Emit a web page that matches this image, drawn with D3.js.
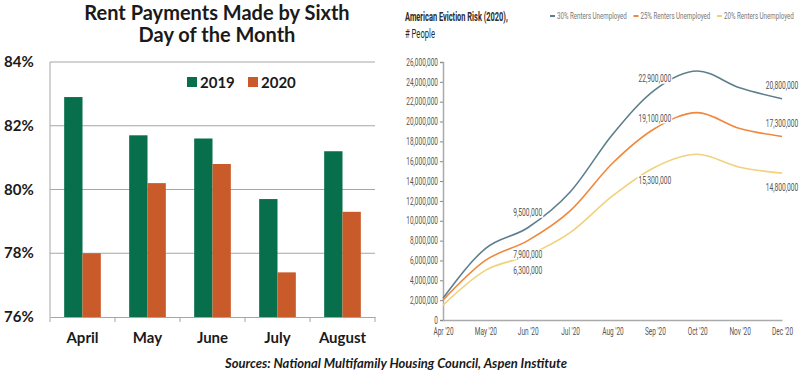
<!DOCTYPE html>
<html>
<head>
<meta charset="utf-8">
<script src="https://cdn.jsdelivr.net/npm/d3@7"></script>
<style>
    body { margin: 0; background: #fff; }
    .bold { font-family: Lato, "Open Sans", sans-serif; font-weight: bold; fill: #1a1a1a; }
    .narrow text { font-family: Roboto, "Liberation Sans", sans-serif; }
</style>
</head>
<body>
<svg id="chart" width="800" height="374"></svg>
<script>
// Left chart: rent payments made by sixth day (%)
const rentMonths = ["April", "May", "June", "July", "August"];
const rentYears = ["2019", "2020"];
const rent2019 = [82.9, 81.7, 81.6, 79.7, 81.2];
const rent2020 = [78.0, 80.2, 80.8, 77.4, 79.3];
const rentTicks = [76, 78, 80, 82, 84];

// Right chart: eviction risk, millions of people
const evictMonths = ["Apr '20", "May '20", "Jun '20", "Jul '20", "Aug '20", "Sep '20", "Oct '20", "Nov '20", "Dec '20"];
const seriesNames = ["30% Renters Unemployed", "25% Renters Unemployed", "20% Renters Unemployed"];
const risk30 = [2.2, 7.2, 9.3, 12.9, 18.7, 23.2, 25.1, 23.4, 22.3];
const risk25 = [2.0, 6.0, 8.0, 11.0, 15.8, 19.3, 20.9, 19.3, 18.5];
const risk20 = [1.5, 5.0, 6.5, 8.8, 12.5, 15.4, 16.7, 15.4, 14.8];
const evictTicks = d3.range(0, 27, 2);
// labels: text, month, series index, vertical offset
const riskLabels = [
    ["9,500,000", "Jun '20", 0, -15],
    ["7,900,000", "Jun '20", 1, 14],
    ["6,300,000", "Jun '20", 2, 14.5],
    ["22,900,000", "Sep '20", 0, -11],
    ["19,100,000", "Sep '20", 1, -10],
    ["15,300,000", "Sep '20", 2, 13],
    ["20,800,000", "Dec '20", 0, -13],
    ["17,300,000", "Dec '20", 1, -13],
    ["14,800,000", "Dec '20", 2, 14]
];

const svg = d3.select("#chart");
const barColors = ["#076f4b", "#c95a29"];
const lineColors = ["#5d7f8d", "#f0883c", "#f1d27c"];

// squeeze text horizontally (the right chart uses a narrow font)
function squeeze(sel, factor) {
    sel.each(function() {
        let el = d3.select(this);
        let x = +el.attr("x") || 0;
        el.attr("x", x / factor)
            .attr("transform", "scale(" + factor + ",1)");
    });
}
function squeezeTo(sel, width) {
    sel.each(function() {
        let w = this.getComputedTextLength();
        squeeze(d3.select(this), width / w);
    });
}

// ---------- bar chart ----------
const x0 = d3.scaleBand().domain(rentMonths).range([50, 375]);
const x1 = d3.scaleBand().domain(rentYears)
    .range([x0.bandwidth() * 0.218, x0.bandwidth() * 0.782]);
const yBar = d3.scaleLinear().domain([76, 84]).range([317, 62]);

let left = svg.append("g");

left.selectAll(".grid")
    .data(rentTicks.slice(1))
    .enter()
    .append("line")
    .attr("x1", 50).attr("x2", 375)
    .attr("y1", d => yBar(d)).attr("y2", d => yBar(d))
    .attr("stroke", "#a6a6a6");

left.selectAll(".ylab")
    .data(rentTicks)
    .enter()
    .append("text")
    .attr("class", "bold")
    .attr("x", 4)
    .attr("y", d => yBar(d) + 5)
    .style("font-size", "15px")
    .text(d => d + "%");

let rentData = rentMonths.map((m, i) => ({month: m, values: [rent2019[i], rent2020[i]]}));

left.selectAll(".group")
    .data(rentData)
    .enter()
    .append("g")
    .attr("transform", d => "translate(" + x0(d.month) + ",0)")
    .selectAll("rect")
    .data(d => d.values.map((v, i) => ({year: rentYears[i], value: v})))
    .enter()
    .append("rect")
    .attr("x", d => x1(d.year))
    .attr("width", x1.bandwidth())
    .attr("y", d => yBar(d.value))
    .attr("height", d => yBar(76) - yBar(d.value))
    .attr("fill", (d, i) => barColors[i]);

left.append("line")
    .attr("x1", 50).attr("x2", 50).attr("y1", 62).attr("y2", 317)
    .attr("stroke", "#a6a6a6");

let xAxisBar = d3.axisBottom(x0).tickSize(0).tickPadding(15);
let gx = left.append("g")
    .attr("transform", "translate(0,317)")
    .call(xAxisBar);
gx.select(".domain").attr("stroke", "#a6a6a6");
gx.selectAll("text")
    .attr("class", "bold")
    .style("font-size", "15px");

// tick marks at category edges
left.selectAll(".edge")
    .data(rentMonths.concat(["end"]))
    .enter()
    .append("line")
    .attr("x1", (d, i) => 50 + i * x0.step())
    .attr("x2", (d, i) => 50 + i * x0.step())
    .attr("y1", 317).attr("y2", 322)
    .attr("stroke", "#a6a6a6");

// legend
let legend = left.selectAll(".leg")
    .data(rentYears)
    .enter()
    .append("g")
    .attr("transform", (d, i) => "translate(" + (187 + i * 61) + ",77)");
legend.append("rect")
    .attr("width", 10).attr("height", 10)
    .attr("fill", (d, i) => barColors[i]);
legend.append("text")
    .attr("class", "bold")
    .attr("x", 13).attr("y", 11)
    .style("font-size", "15px")
    .text(d => d);

left.append("text")
    .attr("class", "bold")
    .attr("x", 217).attr("y", 19.5)
    .attr("text-anchor", "middle")
    .style("font-size", "20px")
    .text("Rent Payments Made by Sixth");
left.append("text")
    .attr("class", "bold")
    .attr("x", 217).attr("y", 42)
    .attr("text-anchor", "middle")
    .style("font-size", "20px")
    .text("Day of the Month");

svg.append("text")
    .attr("class", "bold")
    .attr("x", 396).attr("y", 368)
    .attr("text-anchor", "middle")
    .style("font-size", "13px")
    .style("font-style", "italic")
    .text("Sources: National Multifamily Housing Council, Aspen Institute");

// ---------- line chart ----------
const xLine = d3.scalePoint().domain(evictMonths).range([443, 782]);
const yLine = d3.scaleLinear().domain([0, 26]).range([320, 62]);
const allSeries = [risk30, risk25, risk20];

let right = svg.append("g").attr("class", "narrow");

let yAxisLine = d3.axisLeft(yLine)
    .tickValues(evictTicks)
    .tickSize(3)
    .tickPadding(2)
    .tickFormat(d => d3.format(",")(d * 1000000));
let gy = right.append("g")
    .attr("transform", "translate(443,0)")
    .call(yAxisLine);
gy.select(".domain").attr("stroke", "#aaa").attr("stroke-width", 1.5);
gy.selectAll(".tick line").attr("stroke", "#888");
gy.selectAll("text")
    .style("font-size", "10px")
    .attr("fill", "#555")
    .call(squeeze, 0.65);

let xAxisLine = d3.axisBottom(xLine).tickSize(0).tickPadding(8);
let gx2 = right.append("g")
    .attr("transform", "translate(0,320)")
    .call(xAxisLine);
gx2.select(".domain").attr("stroke", "#aaa").attr("stroke-width", 1.5);
gx2.selectAll("text")
    .style("font-size", "10px")
    .attr("fill", "#555")
    .call(squeeze, 0.65);

let line = d3.line()
    .x((d, i) => xLine(evictMonths[i]))
    .y(d => yLine(d))
    .curve(d3.curveMonotoneX);

right.selectAll(".risk")
    .data(allSeries)
    .enter()
    .append("path")
    .attr("d", d => line(d))
    .attr("fill", "none")
    .attr("stroke", (d, i) => lineColors[i])
    .attr("stroke-width", 1.6);

// value labels with white backing, which leaves gaps in the lines
let labs = right.selectAll(".riskLabel")
    .data(riskLabels)
    .enter()
    .append("g")
    .attr("transform", d => {
        let idx = evictMonths.indexOf(d[1]);
        return "translate(" + xLine(d[1]) + "," + (yLine(allSeries[d[2]][idx]) + d[3]) + ")";
    });
labs.append("text")
    .attr("text-anchor", "middle")
    .attr("y", 3.5)
    .style("font-size", "10px")
    .attr("fill", "#555")
    .text(d => d[0])
    .call(squeeze, 0.67);
labs.insert("rect", "text")
    .each(function() {
        let w = d3.select(this.parentNode).select("text").node().getComputedTextLength() * 0.67;
        d3.select(this)
            .attr("x", -w / 2 - 1).attr("y", -5)
            .attr("width", w + 2).attr("height", 10)
            .attr("fill", "#fff");
    });

// legend
let leg2 = right.selectAll(".leg2")
    .data(seriesNames)
    .enter()
    .append("g")
    .attr("transform", (d, i) => "translate(" + (550 + i * 83.5) + ",16)");
leg2.append("line")
    .attr("x1", 0).attr("x2", 5)
    .attr("stroke", (d, i) => lineColors[i])
    .attr("stroke-width", 2);
leg2.append("text")
    .attr("x", 7).attr("y", 3)
    .style("font-size", "8.5px")
    .attr("fill", "#777")
    .text(d => d)
    .call(squeezeTo, 70);

right.append("text")
    .attr("x", 405).attr("y", 21)
    .style("font-size", "13px")
    .attr("fill", "#2b2b2b")
    .style("font-weight", "bold")
    .text("American Eviction Risk (2020),")
    .call(squeezeTo, 103);
right.append("text")
    .attr("x", 405).attr("y", 38)
    .style("font-size", "12px")
    .attr("fill", "#2b2b2b")
    .text("# People")
    .call(squeezeTo, 30);
</script>
</body>
</html>
